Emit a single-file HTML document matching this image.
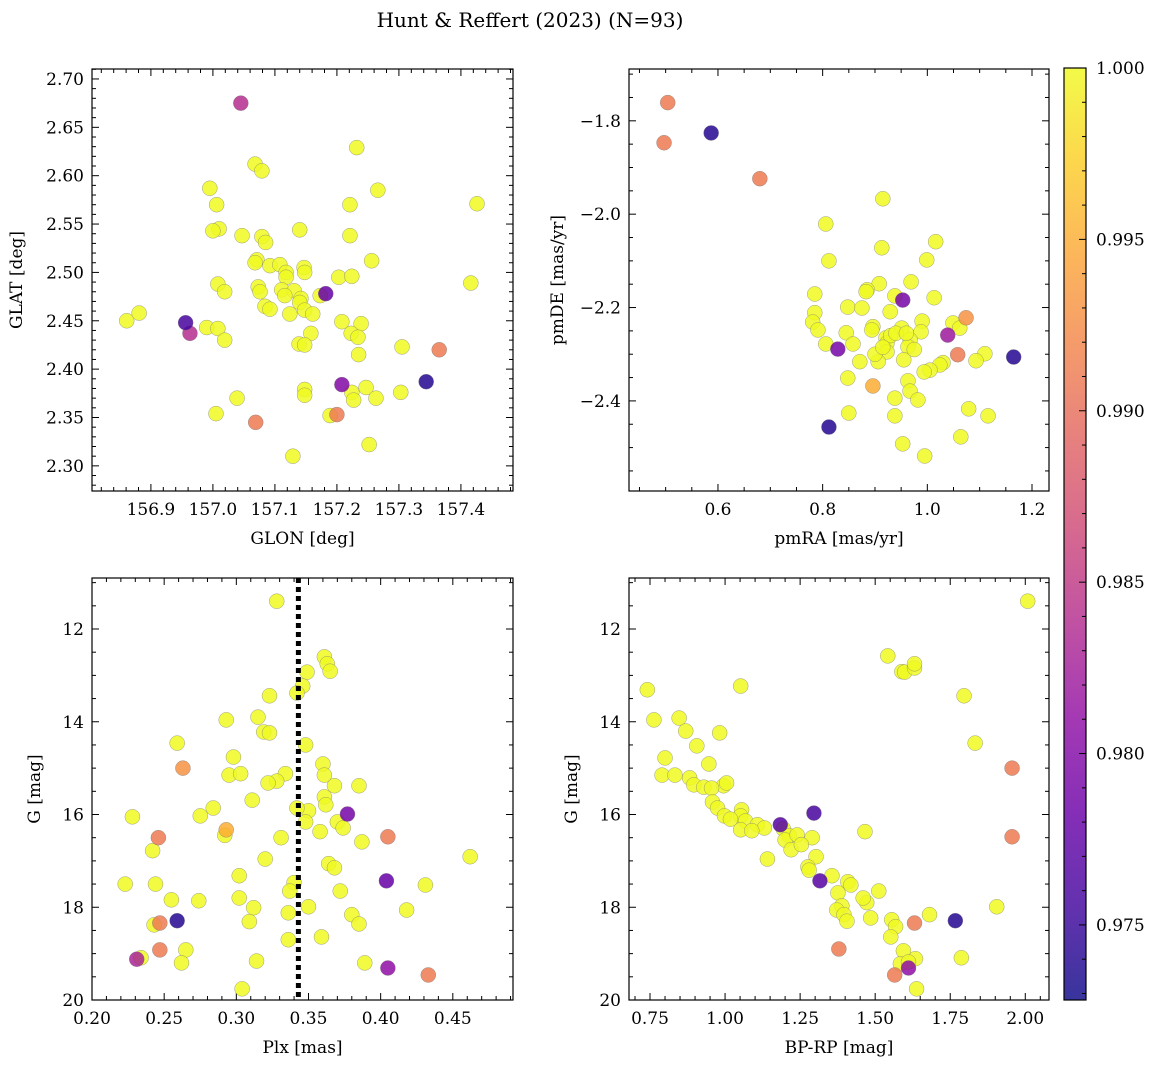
<!DOCTYPE html>
<html><head><meta charset="utf-8"><style>
body{margin:0;background:#fff;}
svg{display:block;font-family:"DejaVu Serif","Liberation Serif",serif;}
</style></head><body>
<svg id="fig" width="1161" height="1068" xmlns="http://www.w3.org/2000/svg">
<defs>
<linearGradient id="plasma" x1="0" y1="1" x2="0" y2="0">
<stop offset="0" stop-color="#0d0887"/><stop offset="0.1" stop-color="#41049d"/><stop offset="0.2" stop-color="#6a00a8"/><stop offset="0.3" stop-color="#8f0da4"/><stop offset="0.4" stop-color="#b12a90"/><stop offset="0.5" stop-color="#cc4778"/><stop offset="0.6" stop-color="#e16462"/><stop offset="0.7" stop-color="#f2844b"/><stop offset="0.8" stop-color="#fca636"/><stop offset="0.9" stop-color="#fcce25"/><stop offset="1" stop-color="#f0f921"/>
</linearGradient>
</defs>
<text x="530" y="27" font-size="20" text-anchor="middle">Hunt &amp; Reffert (2023) (N=93)</text>
</svg>
<script>
// ---- data ----
const p1Glon=[157.045,157.232,157.068,157.079,156.995,157.266,157.426,157.221,157.006,157.047,157.010,157.000,157.140,157.079,157.085,157.221,157.071,157.068,157.256,157.092,157.108,157.147,157.118,157.203,157.224,157.148,157.118,157.008,157.416,157.073,157.076,157.019,157.111,157.131,157.173,157.116,157.142,157.140,157.084,157.092,157.148,157.161,157.124,156.861,156.881,156.990,157.008,157.019,157.208,157.239,157.223,157.234,157.158,157.139,157.148,157.235,157.305,157.148,157.148,157.247,157.224,157.227,157.263,157.303,157.039,157.005,157.189,157.252,157.129,157.182,156.956,156.963,157.365,157.344,157.208,157.200,157.069];
const p1Glat=[2.675,2.629,2.612,2.605,2.587,2.585,2.571,2.570,2.570,2.538,2.545,2.543,2.544,2.537,2.531,2.538,2.513,2.510,2.512,2.507,2.508,2.505,2.500,2.495,2.496,2.500,2.495,2.488,2.489,2.485,2.480,2.480,2.482,2.481,2.476,2.476,2.473,2.469,2.465,2.462,2.461,2.457,2.457,2.450,2.458,2.443,2.442,2.430,2.449,2.447,2.437,2.433,2.437,2.426,2.425,2.415,2.423,2.379,2.373,2.381,2.376,2.368,2.370,2.376,2.370,2.354,2.352,2.322,2.310,2.478,2.448,2.437,2.420,2.387,2.384,2.353,2.345];
const p1Prob=[0.984,1,1,1,1,1,1,1,1,1,1,1,1,1,1,1,1,1,1,1,1,1,1,1,1,1,1,1,1,1,1,1,1,1,1,1,1,1,1,1,1,1,1,1,1,1,1,1,1,1,1,1,1,1,1,1,1,1,1,1,1,1,1,1,1,1,1,1,1,0.978,0.976,0.984,0.991,0.974,0.980,0.991,0.991];

const p2PmRA=[0.915,0.806,1.016,0.913,0.812,0.999,0.969,0.908,0.885,0.883,0.785,0.938,1.013,0.848,0.875,0.929,0.785,0.781,0.990,1.049,0.896,0.951,0.894,0.791,1.062,0.988,0.845,0.921,0.923,0.967,0.806,0.858,0.963,0.923,1.110,0.955,1.030,0.906,0.871,1.093,1.024,1.005,0.994,0.848,0.963,0.967,0.938,0.982,1.079,0.850,0.938,1.116,1.064,0.953,0.995,0.930,0.940,0.975,0.900,0.915,0.960,0.504,0.497,0.587,0.680,0.953,1.074,1.039,0.829,1.058,1.165,0.896,0.812];
const p2PmDE=[-1.967,-2.021,-2.059,-2.072,-2.100,-2.098,-2.145,-2.149,-2.162,-2.166,-2.171,-2.175,-2.179,-2.199,-2.201,-2.209,-2.211,-2.231,-2.229,-2.233,-2.241,-2.244,-2.248,-2.248,-2.244,-2.252,-2.254,-2.265,-2.276,-2.269,-2.278,-2.278,-2.284,-2.295,-2.299,-2.312,-2.318,-2.316,-2.316,-2.314,-2.323,-2.334,-2.338,-2.351,-2.357,-2.379,-2.394,-2.398,-2.417,-2.426,-2.432,-2.432,-2.477,-2.492,-2.518,-2.260,-2.255,-2.290,-2.300,-2.285,-2.255,-1.761,-1.847,-1.826,-1.924,-2.184,-2.222,-2.259,-2.289,-2.301,-2.306,-2.368,-2.456];
const p2Prob=[1,1,1,1,1,1,1,1,1,1,1,1,1,1,1,1,1,1,1,1,1,1,1,1,1,1,1,1,1,1,1,1,1,1,1,1,1,1,1,1,1,1,1,1,1,1,1,1,1,1,1,1,1,1,1,1,1,1,1,1,1,0.991,0.991,0.974,0.991,0.979,0.993,0.982,0.979,0.991,0.974,0.995,0.974];

const p3Plx=[0.328,0.361,0.363,0.365,0.349,0.346,0.342,0.323,0.293,0.315,0.319,0.323,0.348,0.259,0.298,0.360,0.361,0.295,0.303,0.334,0.328,0.322,0.368,0.385,0.284,0.311,0.361,0.350,0.362,0.342,0.275,0.228,0.348,0.370,0.374,0.358,0.331,0.387,0.242,0.320,0.462,0.364,0.368,0.302,0.223,0.244,0.340,0.431,0.372,0.337,0.302,0.274,0.255,0.350,0.312,0.418,0.380,0.336,0.309,0.243,0.385,0.359,0.336,0.265,0.314,0.262,0.389,0.304,0.234,0.292,0.377,0.263,0.293,0.246,0.405,0.404,0.259,0.247,0.247,0.231,0.405,0.433];
const p3G=[11.40,12.60,12.75,12.91,12.93,13.23,13.38,13.44,13.96,13.90,14.22,14.24,14.50,14.46,14.76,14.91,15.15,15.15,15.12,15.12,15.28,15.32,15.38,15.38,15.86,15.69,15.62,15.92,15.79,15.86,16.03,16.05,16.16,16.16,16.29,16.37,16.50,16.59,16.78,16.96,16.91,17.06,17.15,17.32,17.50,17.50,17.47,17.52,17.65,17.65,17.80,17.86,17.84,17.99,18.01,18.06,18.16,18.12,18.31,18.38,18.36,18.64,18.70,18.92,19.16,19.20,19.20,19.76,19.09,16.45,15.99,15.00,16.33,16.50,16.48,17.43,18.29,18.34,18.92,19.12,19.31,19.46];
const p3Prob=[1,1,1,1,1,1,1,1,1,1,1,1,1,1,1,1,1,1,1,1,1,1,1,1,1,1,1,1,1,1,1,1,1,1,1,1,1,1,1,1,1,1,1,1,1,1,1,1,1,1,1,1,1,1,1,1,1,1,1,1,1,1,1,1,1,1,1,1,1,1,0.979,0.993,0.995,0.991,0.991,0.978,0.974,0.991,0.991,0.983,0.981,0.991];
const p3Cut=[0.343];

const p4Bprp=[2.008,1.542,1.052,0.741,1.589,1.598,1.631,1.631,1.796,0.763,0.847,0.869,0.982,0.906,1.833,0.800,0.946,0.790,0.833,0.882,0.896,0.929,0.995,0.955,1.005,0.958,0.975,1.055,1.052,0.998,1.068,1.108,1.131,1.052,1.194,1.214,1.200,1.240,1.290,1.466,1.220,1.303,1.141,1.254,1.276,1.356,1.409,1.419,1.512,1.376,1.389,1.372,1.472,1.396,1.485,1.905,1.681,1.555,1.568,1.552,1.594,1.584,1.634,1.611,1.638,1.787,1.018,1.089,1.280,1.406,1.460,1.184,1.296,1.956,1.956,1.316,1.767,1.631,1.379,1.611,1.565];
const p4G=[11.40,12.58,13.23,13.31,12.92,12.93,12.84,12.75,13.44,13.96,13.92,14.20,14.24,14.52,14.46,14.78,14.91,15.15,15.15,15.21,15.36,15.41,15.38,15.43,15.32,15.73,15.86,15.90,16.03,16.03,16.14,16.22,16.29,16.33,16.31,16.46,16.55,16.44,16.50,16.37,16.76,16.91,16.96,16.65,17.13,17.32,17.45,17.52,17.65,17.69,17.97,18.06,17.90,18.16,18.23,17.99,18.16,18.27,18.42,18.64,18.94,19.22,19.11,19.18,19.76,19.09,16.10,16.35,17.20,18.30,17.80,16.22,15.97,15.00,16.48,17.43,18.29,18.34,18.90,19.31,19.46];
const p4Prob=[1,1,1,1,1,1,1,1,1,1,1,1,1,1,1,1,1,1,1,1,1,1,1,1,1,1,1,1,1,1,1,1,1,1,1,1,1,1,1,1,1,1,1,1,1,1,1,1,1,1,1,1,1,1,1,1,1,1,1,1,1,1,1,1,1,1,1,1,1,1,1,0.977,0.976,0.991,0.991,0.977,0.974,0.991,0.991,0.981,0.991];

const cbTicks=[0.975,0.980,0.985,0.990,0.995,1.000];
const CMIN=0.97281, CMAX=1.0;

// ---- helpers ----
const NS="http://www.w3.org/2000/svg";
const svg=document.getElementById('fig');
function mk(tag,attrs,parent){const e=document.createElementNS(NS,tag);for(const k in attrs)e.setAttribute(k,attrs[k]);(parent||svg).appendChild(e);return e;}
const stops=[[13,8,135],[65,4,157],[106,0,168],[143,13,164],[177,42,144],[204,71,120],[225,100,98],[242,132,75],[252,166,54],[252,206,37],[240,249,33]];
function plasma(v){let t=Math.max(0,Math.min(1,(v-CMIN)/(CMAX-CMIN)))*10;let i=Math.min(9,Math.floor(t)),f=t-i;const a=stops[i],b=stops[i+1];return 'rgb('+[0,1,2].map(k=>Math.round(a[k]+(b[k]-a[k])*f)).join(',')+')';}

function panel(o){
  const g=mk('g',{});
  
  
  const sx=v=>o.x0+(v-o.xmin)/(o.xmax-o.xmin)*(o.x1-o.x0);
  const sy=v=>o.yinv? o.y0+(v-o.ymin)/(o.ymax-o.ymin)*(o.y1-o.y0) : o.y1-(v-o.ymin)/(o.ymax-o.ymin)*(o.y1-o.y0);
  const tk=mk('g',{stroke:'#000','stroke-width':1},g);
  
  
  const eps=1e-9;
  for(let v=Math.ceil(o.xmin/o.xminor-eps)*o.xminor; v<=o.xmax+eps; v+=o.xminor){
    const major=Math.abs(v/o.xmajor-Math.round(v/o.xmajor))<1e-6, L=major?7:4, x=sx(v);
    mk('line',{x1:x,x2:x,y1:o.y1,y2:o.y1-L},tk);mk('line',{x1:x,x2:x,y1:o.y0,y2:o.y0+L},tk);
    if(major){const t=mk('text',{x:x,y:o.y1+24,'font-size':17,'text-anchor':'middle',stroke:'none'},g);t.textContent=v.toFixed(o.xdec);
      
      }
  }
  for(let v=Math.ceil(o.ymin/o.yminor-eps)*o.yminor; v<=o.ymax+eps; v+=o.yminor){
    const major=Math.abs(v/o.ymajor-Math.round(v/o.ymajor))<1e-6, L=major?7:4, y=sy(v);
    mk('line',{x1:o.x0,x2:o.x0+L,y1:y,y2:y},tk);mk('line',{x1:o.x1,x2:o.x1-L,y1:y,y2:y},tk);
    if(major){const t=mk('text',{x:o.x0-8,y:y+6,'font-size':17,'text-anchor':'end'},g);t.textContent=(o.yfmt?o.yfmt(v):v.toFixed(o.ydec));
      
      }
  }
  const pts=mk('g',{},g);
  
  
  const idx=o.xs.map((_,i)=>i).sort((a,b)=>o.c[b]-o.c[a]);
  idx.forEach(i=>{const c=mk('circle',{cx:sx(o.xs[i]),cy:sy(o.ys[i]),r:7.5,fill:plasma(o.c[i]),'fill-opacity':0.85,stroke:'#777','stroke-width':0.5,'stroke-opacity':0.7},pts);
    
    });
  if(o.vline){o.vline.forEach(v=>{const l=mk('line',{x1:sx(v),x2:sx(v),y1:o.y0,y2:o.y1,stroke:'#000','stroke-width':5,'stroke-dasharray':'5,4'},g);
    
    });}
  const fr=mk('rect',{x:o.x0,y:o.y0,width:o.x1-o.x0,height:o.y1-o.y0,fill:'none',stroke:'#000','stroke-width':1.2},g);
  
  
  const xl=mk('text',{x:(o.x0+o.x1)/2,y:o.y1+53,'font-size':17,'text-anchor':'middle'},g);xl.textContent=o.xlabel;
  
  
  const cy=(o.y0+o.y1)/2, cx=o.x0-o.ylabOff;
  const yl=mk('text',{x:cx,y:cy,'font-size':17,'text-anchor':'middle',transform:'rotate(-90 '+cx+' '+cy+')'},g);yl.textContent=o.ylabel;
  
  
}

panel({name:'galactic-position-panel',x0:92,x1:513,y0:69,y1:491,xmin:156.805,xmax:157.484,ymin:2.274,ymax:2.7103,xmajor:0.1,xminor:0.02,ymajor:0.05,yminor:0.01,xdec:1,ydec:2,xs:p1Glon,ys:p1Glat,c:p1Prob,xlabel:'GLON [deg]',ylabel:'GLAT [deg]',ylabOff:70});
panel({name:'proper-motion-panel',x0:629,x1:1049,y0:69,y1:491,xmin:0.430,xmax:1.2325,ymin:-2.593,ymax:-1.689,xmajor:0.2,xminor:0.05,ymajor:0.2,yminor:0.05,xdec:1,ydec:1,yfmt:v=>(v<0?'\u2212':'')+Math.abs(v).toFixed(1),xs:p2PmRA,ys:p2PmDE,c:p2Prob,xlabel:'pmRA [mas/yr]',ylabel:'pmDE [mas/yr]',ylabOff:66});
panel({name:'parallax-magnitude-panel',x0:92,x1:513,y0:578,y1:1000,xmin:0.2,xmax:0.4917,ymin:10.9,ymax:20,yinv:true,xmajor:0.05,xminor:0.01,ymajor:2,yminor:0.5,xdec:2,ydec:0,xs:p3Plx,ys:p3G,c:p3Prob,vline:p3Cut,xlabel:'Plx [mas]',ylabel:'G [mag]',ylabOff:52});
panel({name:'color-magnitude-panel',x0:629,x1:1049,y0:578,y1:1000,xmin:0.680,xmax:2.079,ymin:10.9,ymax:20,yinv:true,xmajor:0.25,xminor:0.05,ymajor:2,yminor:0.5,xdec:2,ydec:0,xs:p4Bprp,ys:p4G,c:p4Prob,xlabel:'BP-RP [mag]',ylabel:'G [mag]',ylabOff:52});

// colorbar
const cb=mk('g',{});


const cbx=1064,cbw=22,cby0=68,cby1=1000;
mk('rect',{x:cbx,y:cby0,width:cbw,height:cby1-cby0,fill:'url(#plasma)','fill-opacity':0.82},cb);
mk('rect',{x:cbx,y:cby0,width:cbw,height:cby1-cby0,fill:'none',stroke:'#000','stroke-width':1.2},cb);
const cy=v=>cby1-(v-CMIN)/(CMAX-CMIN)*(cby1-cby0);
for(let v=0.973;v<=1.00001;v+=0.001){const y=cy(v);const major=Math.abs(v*200-Math.round(v*200))<1e-6;mk('line',{x1:cbx+cbw,x2:cbx+cbw-(major?7:4),y1:y,y2:y,stroke:'#000'},cb);}
cbTicks.forEach(v=>{const t=mk('text',{x:cbx+cbw+10,y:cy(v)+6,'font-size':17},cb);t.textContent=v.toFixed(3);
  
  });
</script>
</body></html>
